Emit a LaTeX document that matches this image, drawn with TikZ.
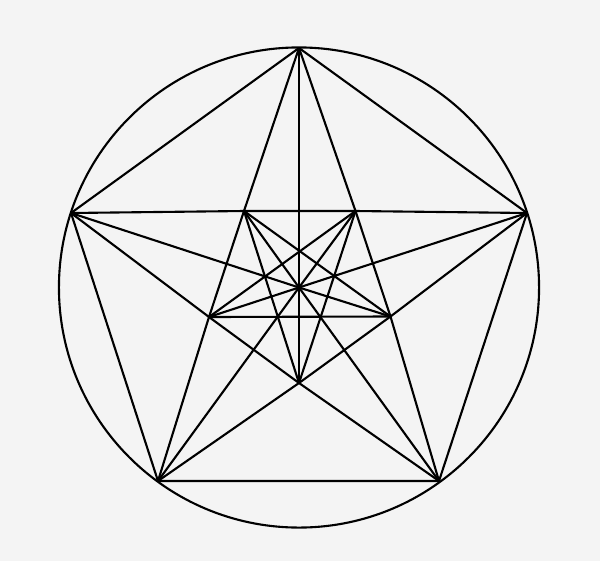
\documentclass[tikz,border=0pt]{standalone}
\usepackage{tikz}
\definecolor{bgpaper}{RGB}{244,244,244}

\begin{document}
\begin{tikzpicture}[x=0.025cm, y=-0.025cm]
                \tikzset{pline/.style={line width=1.5pt, draw=black, line join=round}}
                \fill[bgpaper] (0, 0) rectangle (600, 561);
                \useasboundingbox (0, 0) rectangle (600, 561);
                % Вершины внешнего пятиугольника:
                \coordinate (t)   at (299, 48);
                \coordinate (r)   at (527, 213);
                \coordinate (br)  at (439, 481);
                \coordinate (bl)  at (158, 481);
                \coordinate (l)   at (71, 213);
                % Внутренний пятиугольник и центр:
                \coordinate (itl) at (244, 211);
                \coordinate (itr) at (355.5, 211);
                \coordinate (ir)  at (390.5, 316.5);
                \coordinate (ib)  at (299, 383);
                \coordinate (il)  at (209, 317);
                \coordinate (c)   at (299, 287.5);

                \draw[pline] (c) circle [radius=6cm];
                \draw[pline] (t) -- (r) -- (br) -- (bl) -- (l) -- cycle;

                % Пентаграмма:
                \draw[pline] (t) -- (itl) -- (il) -- (bl);
                \draw[pline] (t) -- (itr) -- (ir) -- (br);
                \draw[pline] (l) -- (itl) -- (itr) -- (r);
                \draw[pline] (l) -- (il) -- (ib) -- (br);
                \draw[pline] (r) -- (ir) -- (ib) -- (bl);

                % Линии через центр:
                \draw[pline] (t) -- (c) -- (ib);
                \draw[pline] (l) -- (c) -- (ir);
                \draw[pline] (r) -- (c) -- (il);
                \draw[pline] (bl) -- (c) -- (itr);
                \draw[pline] (br) -- (c) -- (itl);

                % Диагонали внутреннего пятиугольника:
                \draw[pline] (itl) -- (ir);
                \draw[pline] (itl) -- (ib);
                \draw[pline] (itr) -- (il);
                \draw[pline] (itr) -- (ib);
                \draw[pline] (il) -- (ir);
            \end{tikzpicture}
\end{document}
